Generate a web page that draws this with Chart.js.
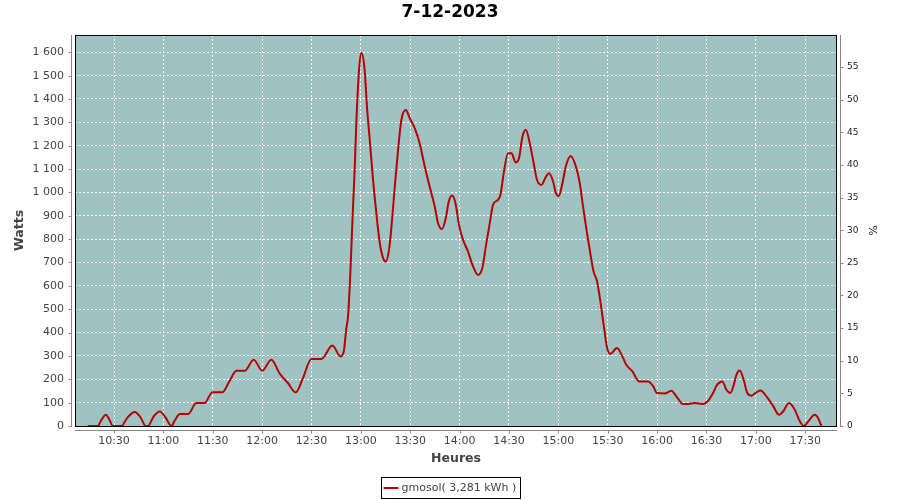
<!DOCTYPE html>
<html>
<head>
<meta charset="utf-8">
<script src="https://cdn.jsdelivr.net/npm/chart.js@4.4.0/dist/chart.umd.min.js"></script>
<style>
    html, body { margin: 0; padding: 0; background: #fff; }
</style>
</head>
<body>
<canvas id="powerChart" width="900" height="500"></canvas>
<script>
// Données
const chartTitle = '7-12-2023';
const seriesLabel = 'gmosol( 3,281 kWh )';

// minutes depuis minuit
const minutes = [
    614, 620, 622.5, 625, 627, 629.4, 634.5, 638, 642.6, 646, 649.3, 650.7,
    654, 657.8, 661, 664.9, 667, 670, 675, 680, 685, 689.8, 695.9, 700,
    704.4, 709.4, 714.9, 720, 725.6, 730.7, 735.7, 740.4, 744.8, 749.9, 756, 762.7,
    767.6, 769.6, 771.2, 772.2, 773.6, 774.9, 776.3, 777.3, 778.9, 780.3, 782.3, 783.7,
    785.4, 787.4, 789.4, 791.5, 793.5, 795.1, 797.1, 798.6, 800.6, 802.6, 804.6, 807.3,
    809.7, 812.7, 815.7, 818.8, 821.8, 824.9, 826.9, 829.3, 831.6, 833.4, 835.4, 837.5,
    839.6, 842.1, 845.1, 847.8, 851.2, 853.8, 855.9, 858.3, 860.3, 863.3, 864.8, 866.8,
    869.4, 871.5, 874.1, 876.1, 878.2, 880.2, 882.6, 885, 887, 889.7, 892.3, 894.3,
    896.8, 898.4, 900.2, 902.5, 904.5, 907.5, 910.5, 913, 915, 917.4, 919.4, 921.4,
    923.5, 925.1, 926.8, 928.2, 929.6, 931.6, 935.6, 938.9, 941.3, 945, 949, 954.5,
    957.5, 959.9, 964.6, 968.7, 971.7, 975.7, 978.8, 982.9, 987.9, 991, 994, 996.5,
    999.7, 1002.1, 1004.5, 1006.6, 1008.2, 1010.2, 1012.6, 1014.6, 1017.3, 1020.3, 1022.8, 1026.4,
    1030.4, 1034.1, 1036.5, 1040.2, 1043.6, 1046.7, 1049.1, 1051.1, 1055.8, 1057.8, 1059.8
];
const watts = [
    0, 0, 28, 48, 30, 0, 0, 35, 60, 38, 0, 0,
    40, 62, 40, 0, 25, 51, 51, 98, 98, 145, 145, 190,
    237, 237, 284, 237, 284, 224, 184, 144, 205, 287, 287, 345,
    298, 319, 420, 469, 654, 883, 1111, 1310, 1524, 1598, 1524, 1367,
    1225, 1054, 911, 783, 719, 704, 754, 854, 1025, 1182, 1310, 1353,
    1318, 1275, 1211, 1111, 1025, 939, 868, 843, 890, 961, 987, 954,
    861, 797, 747, 690, 647, 676, 768, 868, 947, 968, 990, 1082,
    1168, 1168, 1128, 1147, 1239, 1268, 1211, 1125, 1054, 1032, 1065, 1082,
    1047, 999, 985, 1040, 1111, 1156, 1114, 1040, 939, 826, 740, 661,
    619, 554, 469, 398, 334, 309, 334, 298, 262, 234, 191, 191,
    172, 141, 139, 151, 127, 94, 94, 98, 94, 108, 141, 177,
    191, 155, 141, 177, 219, 238, 198, 144, 130, 144, 152, 127,
    87, 48, 62, 98, 70, 20, 0, 13, 48, 34, 0
];

const timeTicks = ['10:30', '11:00', '11:30', '12:00', '12:30', '13:00', '13:30', '14:00',
                   '14:30', '15:00', '15:30', '16:00', '16:30', '17:00', '17:30'];
const wattTicks = [0, 100, 200, 300, 400, 500, 600, 700, 800, 900, 1000, 1100, 1200, 1300, 1400, 1500, 1600];
const percentTicks = [0, 5, 10, 15, 20, 25, 30, 35, 40, 45, 50, 55];

// bornes des axes
const xMin = 606.3, xMax = 1069.3;
const wattMax = 1674, percentMax = 59.9;

function toMinutes(hhmm) {
    const parts = hhmm.split(':');
    return parseInt(parts[0]) * 60 + parseInt(parts[1]);
}

function formatTime(m) {
    const h = Math.floor(m / 60);
    const mm = Math.round(m % 60);
    return h + ':' + (mm < 10 ? '0' : '') + mm;
}

function formatWatts(v) {
    if (v >= 1000) {
        const rest = String(v % 1000).padStart(3, '0');
        return Math.floor(v / 1000) + ' ' + rest;
    }
    return String(v);
}

Chart.defaults.font.family = 'DejaVu Sans';

// fond de la zone de tracé
const plotBackground = {
    id: 'plotBackground',
    beforeDraw(chart) {
        const { ctx, chartArea: a } = chart;
        ctx.save();
        ctx.fillStyle = '#9ec3c2';
        ctx.fillRect(a.left, a.top, a.right - a.left, a.bottom - a.top);
        ctx.restore();
    }
};

// cadre, axes décalés, graduations et légende
const frameAndLegend = {
    id: 'frameAndLegend',
    afterDraw(chart) {
        const { ctx, chartArea: a, scales } = chart;
        ctx.save();
        ctx.strokeStyle = '#000';
        ctx.lineWidth = 1;
        ctx.strokeRect(a.left + 0.5, a.top + 0.5, a.right - a.left - 1, a.bottom - a.top);

        ctx.strokeStyle = '#888';
        ctx.beginPath();
        // axe gauche
        const lx = Math.round(a.left) - 3.5;
        ctx.moveTo(lx, a.top); ctx.lineTo(lx, a.bottom + 1);
        scales.y.ticks.forEach(t => {
            const py = Math.round(scales.y.getPixelForValue(t.value)) + 0.5;
            ctx.moveTo(lx - 3, py); ctx.lineTo(lx, py);
        });
        // axe bas
        const by = Math.round(a.bottom) + 4.5;
        ctx.moveTo(a.left, by); ctx.lineTo(a.right, by);
        scales.x.ticks.forEach(t => {
            const px = Math.round(scales.x.getPixelForValue(t.value)) + 0.5;
            ctx.moveTo(px, by); ctx.lineTo(px, by + 3);
        });
        // axe droit
        const rx = Math.round(a.right) + 3.5;
        ctx.moveTo(rx, a.top); ctx.lineTo(rx, a.bottom + 1);
        scales.y1.ticks.forEach(t => {
            const py = Math.round(scales.y1.getPixelForValue(t.value)) + 0.5;
            ctx.moveTo(rx, py); ctx.lineTo(rx + 3, py);
        });
        ctx.stroke();

        // légende
        ctx.font = '11px "DejaVu Sans"';
        const textW = ctx.measureText(seriesLabel).width;
        const boxW = Math.round(textW + 24);
        const boxX = Math.round(450 - boxW / 2) + 0.5;
        const boxY = 477.5;
        ctx.strokeStyle = '#000';
        ctx.strokeRect(boxX, boxY, boxW, 21);
        ctx.strokeStyle = '#b80000';
        ctx.lineWidth = 2;
        ctx.beginPath();
        ctx.moveTo(boxX + 2, 488); ctx.lineTo(boxX + 17, 488);
        ctx.stroke();
        ctx.fillStyle = '#444';
        ctx.textBaseline = 'middle';
        ctx.fillText(seriesLabel, boxX + 20, 488.5);
        ctx.restore();
    }
};

new Chart(document.getElementById('powerChart'), {
    type: 'line',
    data: {
        datasets: [{
            label: seriesLabel,
            data: minutes.map((m, i) => ({ x: m, y: watts[i] })),
            borderColor: '#b80000',
            borderWidth: 2,
            pointRadius: 0,
            cubicInterpolationMode: 'monotone',
            fill: false,
            yAxisID: 'y'
        }]
    },
    options: {
        responsive: false,
        animation: false,
        layout: { padding: { left: 0, right: 0, top: 0, bottom: 30 } },
        plugins: {
            legend: { display: false },
            tooltip: { enabled: false },
            title: {
                display: true,
                text: chartTitle,
                color: '#000',
                font: { size: 17, weight: 'bold' },
                padding: { top: 2, bottom: 12.6 }
            }
        },
        scales: {
            x: {
                type: 'linear',
                min: xMin,
                max: xMax,
                afterFit: function(scale) { scale.height = 44; },
                afterBuildTicks: function(scale) {
                    scale.ticks = timeTicks.map(t => ({ value: toMinutes(t) }));
                },
                grid: { color: '#fff', lineWidth: 1, drawTicks: false },
                border: { display: false, dash: [2, 2] },
                ticks: {
                    autoSkip: false,
                    maxRotation: 0,
                    padding: 9,
                    color: '#444',
                    font: { size: 11 },
                    callback: function(value) { return formatTime(value); }
                },
                title: {
                    display: true,
                    text: 'Heures',
                    color: '#444',
                    font: { size: 12.5, weight: 'bold' },
                    padding: { top: 0, bottom: 4 }
                }
            },
            y: {
                position: 'left',
                min: 0,
                max: wattMax,
                afterFit: function(scale) { scale.width = 75; },
                afterBuildTicks: function(scale) {
                    scale.ticks = wattTicks.map(v => ({ value: v }));
                },
                grid: { color: '#fff', lineWidth: 1, drawTicks: false },
                border: { display: false, dash: [2, 2] },
                ticks: {
                    autoSkip: false,
                    padding: 11,
                    color: '#444',
                    font: { size: 11 },
                    callback: function(value) { return formatWatts(value); }
                },
                title: {
                    display: true,
                    text: 'Watts',
                    color: '#444',
                    font: { size: 12.5, weight: 'bold' },
                    padding: { top: 12.5, bottom: 0 }
                }
            },
            y1: {
                position: 'right',
                min: 0,
                max: percentMax,
                afterFit: function(scale) { scale.width = 63; },
                afterBuildTicks: function(scale) {
                    scale.ticks = percentTicks.map(v => ({ value: v }));
                },
                grid: { drawOnChartArea: false, drawTicks: false },
                border: { display: false },
                ticks: {
                    autoSkip: false,
                    padding: 10,
                    color: '#222',
                    font: { size: 9 }
                },
                title: {
                    display: true,
                    text: '%',
                    color: '#222',
                    font: { size: 11 },
                    padding: { top: 22, bottom: 0 }
                }
            }
        }
    },
    plugins: [plotBackground, frameAndLegend]
});
</script>
</body>
</html>
